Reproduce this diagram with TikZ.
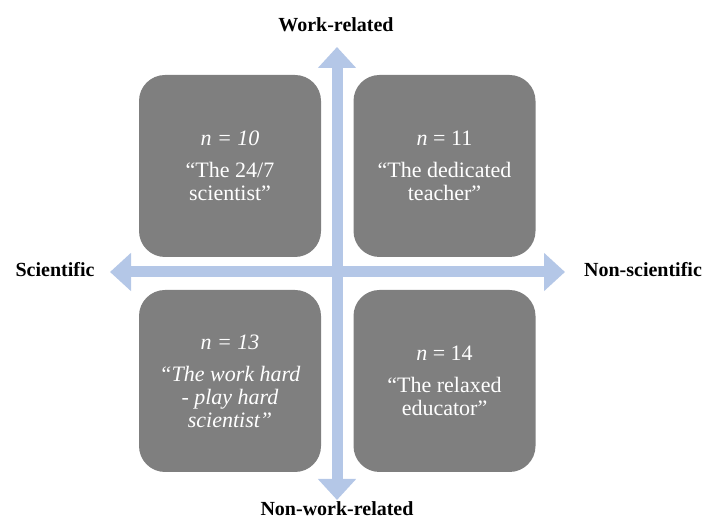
\documentclass[tikz,border=0pt]{standalone}
\usepackage{fontspec}
\setmainfont{Liberation Serif}
\usetikzlibrary{arrows.meta}
\definecolor{boxgray}{RGB}{127,127,127}
\definecolor{axisblue}{RGB}{180,199,231}
\begin{document}
\begin{tikzpicture}[x=1pt,y=1pt,
  quad/.style={fill=boxgray, draw=none, rounded corners=26pt, minimum width=182pt, minimum height=182pt,
    text=white, align=center, inner sep=0pt, font=\fontsize{22}{23}\selectfont},
  axislabel/.style={font=\fontsize{20}{22}\selectfont\bfseries, anchor=base, inner sep=0pt},
  axis/.style={draw=axisblue, line width=11pt, {Triangle[length=21pt,width=37pt]}-{Triangle[length=21pt,width=37pt]}}]
\useasboundingbox (0,0) rectangle (706,521);
% axes
\coordinate (L) at (110,249);
\coordinate (R) at (565,249);
\coordinate (T) at (337,474);
\coordinate (B) at (337,21);
\draw[axis] (L) -- (R);
\draw[axis] (B) -- (T);
% quadrants
\node[quad] (q1) at (230,355) {\textit{n = 10}\\[9pt]“The 24/7\\scientist”};
\node[quad] (q2) at (444.5,355) {\textit{n} = 11\\[9pt]“The dedicated\\teacher”};
\node[quad] (q3) at (230,140) {\textit{n = 13}\\[9pt]\textit{“The work hard}\\\textit{- play hard}\\\textit{scientist”}};
\node[quad] (q4) at (444.5,140) {\textit{n} = 14\\[9pt]“The relaxed\\educator”};
% labels
\node[axislabel] (work) at (336,489) {Work-related};
\node[axislabel] (nonwork) at (337,5) {Non-work-related};
\node[axislabel] (sci) at (55,244) {Scientific};
\node[axislabel] (nonsci) at (643,244) {Non-scientific};
\end{tikzpicture}
\end{document}
